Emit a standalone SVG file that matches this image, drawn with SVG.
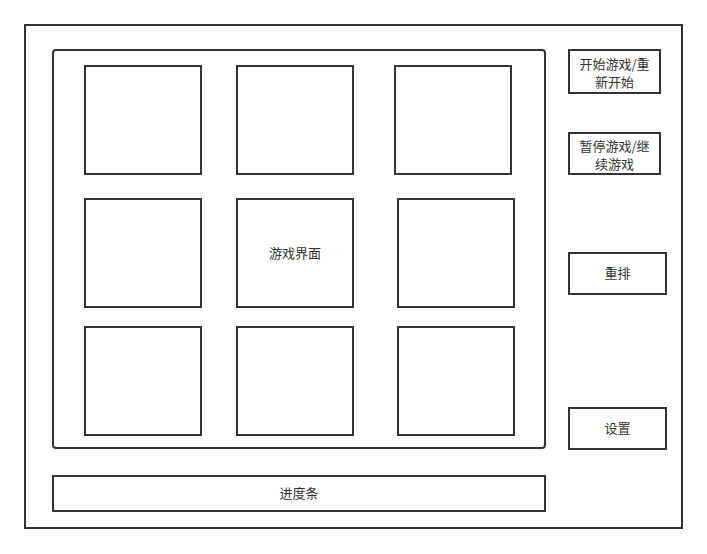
<svg xmlns="http://www.w3.org/2000/svg" width="707" height="554" viewBox="0 0 707 554">
<style>
.b{fill:#fff;stroke:#333;stroke-width:2}
.t{font-family:"Noto Sans CJK SC","Noto Sans",sans-serif;font-size:13px;fill:#333;text-anchor:middle}
</style>
<rect width="707" height="554" fill="#fff"/>
<g id="outer"><rect class="b" x="25" y="25" width="657" height="503"/></g>
<g id="game"><rect class="b" x="53" y="50" width="492" height="398" rx="3"/></g>
<g id="cell1"><rect class="b" x="85" y="66" width="116" height="108"/></g>
<g id="cell2"><rect class="b" x="237" y="66" width="116" height="108"/></g>
<g id="cell3"><rect class="b" x="395" y="66" width="116" height="108"/></g>
<g id="cell4"><rect class="b" x="85" y="199" width="116" height="108"/></g>
<g id="cell5"><rect class="b" x="237" y="199" width="116" height="108"/><text class="t" x="295" y="258">游戏界面</text></g>
<g id="cell6"><rect class="b" x="398" y="199" width="116" height="108"/></g>
<g id="cell7"><rect class="b" x="85" y="327" width="116" height="108"/></g>
<g id="cell8"><rect class="b" x="237" y="327" width="116" height="108"/></g>
<g id="cell9"><rect class="b" x="398" y="327" width="116" height="108"/></g>
<g id="start"><rect class="b" x="569" y="50" width="91" height="43"/><text class="t" x="614.5" y="69">开始游戏/重</text><text class="t" x="614.5" y="87">新开始</text></g>
<g id="pause"><rect class="b" x="569" y="133" width="91" height="41"/><text class="t" x="614.5" y="151">暂停游戏/继</text><text class="t" x="614.5" y="169">续游戏</text></g>
<g id="shuffle"><rect class="b" x="569" y="253" width="97" height="41"/><text class="t" x="617.5" y="278">重排</text></g>
<g id="settings"><rect class="b" x="569" y="408" width="97" height="41"/><text class="t" x="617.5" y="433">设置</text></g>
<g id="progress"><rect class="b" x="53" y="476" width="492" height="35"/><text class="t" x="299" y="498">进度条</text></g>
<g id="connectors"/>
</svg>
